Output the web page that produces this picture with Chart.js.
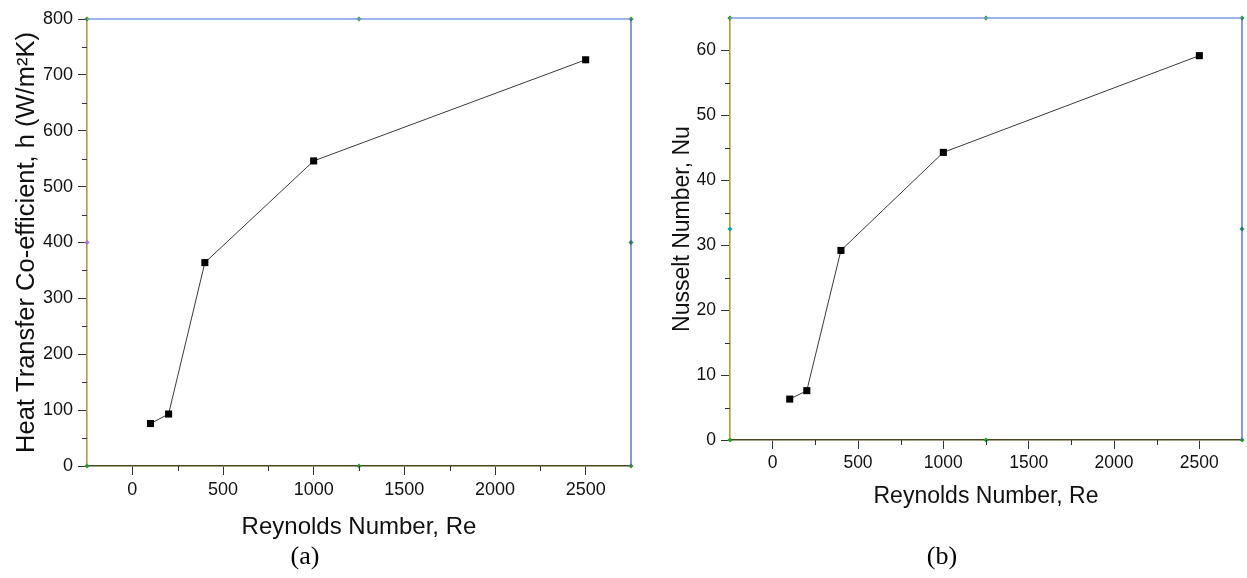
<!DOCTYPE html>
<html>
<head>
<meta charset="utf-8">
<script src="https://cdn.jsdelivr.net/npm/chart.js@4.4.1/dist/chart.umd.min.js"></script>
<style>
  html, body { margin: 0; padding: 0; background: #ffffff; }
  body { width: 1247px; height: 578px; position: relative; overflow: hidden; }
  canvas { position: absolute; top: 0; }
  #c1 { left: 0; }
  #c2 { left: 640px; }
  .cap { position: absolute; font-family: 'Liberation Serif', 'Times New Roman', serif; font-size: 26px; color: #000; transform: translate(-50%, -50%); white-space: nowrap; }
</style>
</head>
<body>
<canvas id="c1" width="640" height="578"></canvas>
<canvas id="c2" width="607" height="578"></canvas>
<div class="cap" style="left:305px; top:556px;">(a)</div>
<div class="cap" style="left:942px; top:556px;">(b)</div>
<script>
// ---- data ----
const reynolds = [100, 200, 400, 1000, 2500];
const heatTransferCoeff = [76, 93, 364, 546, 727];
const nusselt = [6.3, 7.6, 29.2, 44.3, 59.2];

// ---- ticks ----
const xMajorTicks = [0, 500, 1000, 1500, 2000, 2500];
const xMinorTicks = [250, 750, 1250, 1750, 2250];
const hMajorTicks = [0, 100, 200, 300, 400, 500, 600, 700, 800];
const hMinorTicks = [50, 150, 250, 350, 450, 550, 650, 750];
const nuMajorTicks = [0, 10, 20, 30, 40, 50, 60];
const nuMinorTicks = [5, 15, 25, 35, 45, 55];

// ---- axis ranges ----
const xRange = [-250, 2750];
const hRange = [0, 800];
const nuRange = [0, 65];

// frame marker positions (Origin-style anchor points)
const xFrameMarks = [-250, 1250, 2750];

const FONT = "'Liberation Sans', Arial, Helvetica, sans-serif";

function frameMarkData(yMin, yMax) {
  const yMid = (yMin + yMax) / 2;
  return [
    {x: xFrameMarks[0], y: yMin}, {x: xFrameMarks[0], y: yMid}, {x: xFrameMarks[0], y: yMax},
    {x: xFrameMarks[1], y: yMin}, {x: xFrameMarks[1], y: yMax},
    {x: xFrameMarks[2], y: yMin}, {x: xFrameMarks[2], y: yMid}, {x: xFrameMarks[2], y: yMax}
  ];
}

const framePlugin = {
  id: 'frameAndMinor',
  afterDatasetsDraw(chart, args, opts) {
    const {ctx, chartArea: a, scales} = chart;
    ctx.save();
    // top border
    ctx.strokeStyle = '#7f9be3';
    ctx.lineWidth = 1.5;
    ctx.beginPath(); ctx.moveTo(a.left, a.top); ctx.lineTo(a.right, a.top); ctx.stroke();
    // right border
    ctx.strokeStyle = '#3552d4';
    ctx.lineWidth = 1.2;
    ctx.beginPath(); ctx.moveTo(a.right, a.top); ctx.lineTo(a.right, a.bottom); ctx.stroke();
    // minor ticks
    ctx.strokeStyle = '#333';
    ctx.lineWidth = 1;
    ctx.beginPath();
    opts.xMinor.forEach(v => {
      const px = Math.round(scales.x.getPixelForValue(v)) + 0.5;
      ctx.moveTo(px, a.bottom); ctx.lineTo(px, a.bottom + 5);
    });
    opts.yMinor.forEach(v => {
      const py = Math.round(scales.y.getPixelForValue(v)) + 0.5;
      ctx.moveTo(a.left, py); ctx.lineTo(a.left - 5, py);
    });
    ctx.stroke();
    ctx.restore();
  }
};

function makeChart(canvasId, yValues, yRange, yMajor, yMinor, yTitle, lay) {
  const pts = reynolds.map((r, i) => ({x: r, y: yValues[i]}));
  const markColors = ['#2a9a2a', lay.leftMidColor, '#2a9a2a', '#2a9a2a', '#2a9a2a', '#2a9a2a', '#2a9a2a', '#2a9a2a'];
  return new Chart(document.getElementById(canvasId), {
    type: 'scatter',
    data: {
      datasets: [
        {
          label: 'data',
          data: pts,
          showLine: true,
          borderColor: '#3a3a3a',
          borderWidth: 1,
          pointStyle: 'rect',
          pointRadius: 5,
          pointBackgroundColor: '#000',
          pointBorderColor: '#000',
          pointBorderWidth: 0,
          clip: false
        },
        {
          label: 'frame',
          data: frameMarkData(yRange[0], yRange[1]),
          showLine: false,
          pointStyle: 'rectRot',
          pointRadius: 2.6,
          pointBackgroundColor: markColors,
          pointBorderColor: markColors,
          pointBorderWidth: 0,
          clip: false
        }
      ]
    },
    options: {
      responsive: false,
      animation: false,
      events: [],
      layout: { padding: lay.padding },
      plugins: {
        legend: { display: false },
        tooltip: { enabled: false },
        frameAndMinor: { xMinor: xMinorTicks, yMinor: yMinor }
      },
      scales: {
        x: {
          type: 'linear',
          position: 'bottom',
          min: xRange[0],
          max: xRange[1],
          afterBuildTicks: s => { s.ticks = xMajorTicks.map(v => ({value: v})); },
          afterFit: s => { s.height = lay.xHeight; s.paddingLeft = 0; s.paddingRight = 0; },
          grid: { drawOnChartArea: false, drawTicks: true, tickLength: 9, tickColor: '#333', tickWidth: 1 },
          border: { display: true, color: '#4d4520', width: 1.6 },
          ticks: { color: '#111', font: { family: FONT, size: lay.tickSize }, padding: 4, maxRotation: 0, callback: v => String(v) },
          title: { display: true, text: 'Reynolds Number, Re', color: '#111', font: { family: FONT, size: lay.xTitleSize }, padding: 0 }
        },
        y: {
          type: 'linear',
          position: 'left',
          min: yRange[0],
          max: yRange[1],
          afterBuildTicks: s => { s.ticks = yMajor.map(v => ({value: v})); },
          afterFit: s => { s.width = lay.yWidth; },
          grid: { drawOnChartArea: false, drawTicks: true, tickLength: 9, tickColor: '#333', tickWidth: 1 },
          border: { display: true, color: '#b39b35', width: 1.6 },
          ticks: { color: '#111', font: { family: FONT, size: lay.tickSize }, padding: 5, callback: v => String(v) },
          title: { display: true, text: yTitle, color: '#111', font: { family: FONT, size: lay.yTitleSize }, padding: 0 }
        }
      }
    },
    plugins: [framePlugin]
  });
}

// left chart: plot area x 87..631, y 19..466
makeChart('c1', heatTransferCoeff, hRange, hMajorTicks, hMinorTicks,
  'Heat Transfer Co-efficient, h (W/m\u00B2K)',
  { padding: { left: 12, top: 19, right: 9, bottom: 36.6 }, yWidth: 75, xHeight: 75.4,
    leftMidColor: '#b070d0', yTitleSize: 25.5, xTitleSize: 24, tickSize: 18 });

// right chart: plot area x 730..1245 (canvas 90..605), y 18..440
makeChart('c2', nusselt, nuRange, nuMajorTicks, nuMinorTicks,
  'Nusselt Number, Nu',
  { padding: { left: 29.2, top: 18, right: 2, bottom: 67.2 }, yWidth: 60.8, xHeight: 70.8,
    leftMidColor: '#20a0a0', yTitleSize: 23, xTitleSize: 23, tickSize: 17.5 });
</script>
</body>
</html>
